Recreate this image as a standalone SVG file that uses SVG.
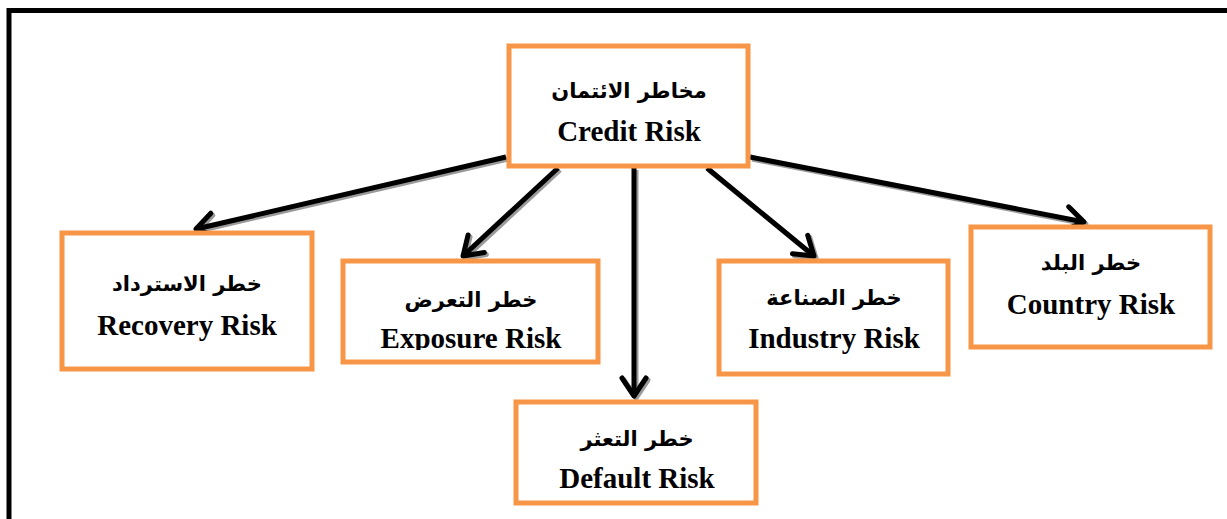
<svg xmlns="http://www.w3.org/2000/svg" width="1227" height="519" viewBox="0 0 1227 519">
<style>
.box{fill:#fff;stroke:#f79646;stroke-width:5}
.en{font-family:"Liberation Serif","Times New Roman",serif;font-weight:bold;font-size:29px;fill:#000;text-anchor:middle}
.ar{font-family:"DejaVu Sans","Liberation Serif",sans-serif;font-weight:bold;font-size:21px;fill:#000;text-anchor:middle}
.ln{fill:none;stroke:#000;stroke-width:5}
.sh{fill:none;stroke:#9a9a9a;stroke-width:5}
</style>
<defs>
<marker id="ah" markerUnits="userSpaceOnUse" orient="auto" markerWidth="40" markerHeight="40" refX="0" refY="0" viewBox="-25 -20 30 40" overflow="visible">
<path d="M-18,-12 L0,0 L-18,12" fill="none" stroke="#000" stroke-width="5" stroke-linejoin="round" stroke-linecap="round"/>
</marker>
<marker id="ahs" markerUnits="userSpaceOnUse" orient="auto" markerWidth="40" markerHeight="40" refX="0" refY="0" viewBox="-25 -20 30 40" overflow="visible">
<path d="M-18,-12 L0,0 L-18,12" fill="none" stroke="#9a9a9a" stroke-width="5" stroke-linejoin="round" stroke-linecap="round"/>
</marker>
<clipPath id="expClip"><rect x="343" y="261" width="255" height="89"/></clipPath>
</defs>
<rect width="1227" height="519" fill="#fff"/>
<rect x="9" y="10.5" width="1240" height="530" fill="none" stroke="#000" stroke-width="5"/>
<g id="connectors">
<g transform="translate(2,2)">
<path class="sh" d="M506,157 L196,229" marker-end="url(#ahs)"/>
<path class="sh" d="M558,168 L463,256" marker-end="url(#ahs)"/>
<path class="sh" d="M634,168 L634,396" marker-end="url(#ahs)"/>
<path class="sh" d="M707,168 L814,256" marker-end="url(#ahs)"/>
<path class="sh" d="M750,157 L1084,222" marker-end="url(#ahs)"/>
</g>
<path class="ln" d="M506,157 L196,229" marker-end="url(#ah)"/>
<path class="ln" d="M558,168 L463,256" marker-end="url(#ah)"/>
<path class="ln" d="M634,168 L634,396" marker-end="url(#ah)"/>
<path class="ln" d="M707,168 L814,256" marker-end="url(#ah)"/>
<path class="ln" d="M750,157 L1084,222" marker-end="url(#ah)"/>
</g>
<g id="credit">
<rect class="box" x="509" y="46" width="239" height="120"/>
<text class="ar" x="629" y="98">مخاطر الائتمان</text>
<text class="en" x="629" y="141">Credit Risk</text>
</g>
<g id="recovery">
<rect class="box" x="62" y="233" width="250" height="136"/>
<text class="ar" x="187" y="291">خطر الاسترداد</text>
<text class="en" x="187" y="335">Recovery Risk</text>
</g>
<g id="exposure">
<rect class="box" x="343" y="261" width="255" height="101"/>
<text class="ar" x="471" y="307">خطر التعرض</text>
<text class="en" x="471" y="348" clip-path="url(#expClip)">Exposure Risk</text>
</g>
<g id="default">
<rect class="box" x="516" y="402" width="240" height="101"/>
<text class="ar" x="637" y="446">خطر التعثر</text>
<text class="en" x="637" y="488">Default Risk</text>
</g>
<g id="industry">
<rect class="box" x="719" y="261" width="229" height="113"/>
<text class="ar" x="834" y="305">خطر الصناعة</text>
<text class="en" x="834" y="348">Industry Risk</text>
</g>
<g id="country">
<rect class="box" x="971" y="227" width="239" height="120"/>
<text class="ar" x="1091" y="270">خطر البلد</text>
<text class="en" x="1091" y="314">Country Risk</text>
</g>
</svg>
